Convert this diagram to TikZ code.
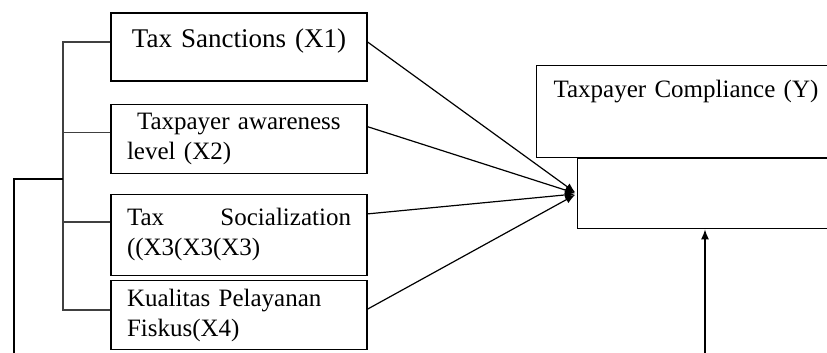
\documentclass[tikz,border=0pt]{standalone}
\usepackage{fontspec}
\setmainfont{Liberation Serif}
\usetikzlibrary{arrows.meta,positioning}

\begin{document}
\begin{tikzpicture}[
    x=0.5pt, y=-0.5pt,
    varbox/.style={draw=black, line width=0.6pt, minimum width=128pt, text width=112pt,
        inner xsep=8pt, inner ysep=0pt, align=left, font=\fontsize{12.5}{15}\selectfont},
    bracket/.style={draw=black!75, line width=0.8pt},
    link/.style={line width=0.6pt, -{Latex[length=5pt,width=4pt]}, shorten >=1pt}
    ]
    \useasboundingbox (0,0) rectangle (827,353);
    \clip (0,0) rectangle (827,353);

    % Variabel bebas
    \node[varbox, minimum height=34pt, align=center, text depth=9pt,
        font=\fontsize{13.5}{16}\selectfont] (sanctions) at (239,47) {Tax Sanctions (X1)};
    \node[varbox, minimum height=34.5pt, below=11pt of sanctions] (awareness) {\hspace*{5pt}Taxpayer awareness\\level (X2)};
    \node[varbox, minimum height=40.5pt, below=10pt of awareness] (socialization) {Tax\hspace{0pt plus 1filll}Socialization\\((X3(X3(X3)};
    \node[varbox, minimum height=34.5pt, below=2pt of socialization] (service) {Kualitas Pelayanan\\Fiskus(X4)};

    % Variabel terikat
    \node[draw=black, line width=0.6pt, minimum width=182pt, minimum height=46pt, text width=165pt,
        inner xsep=8.5pt, inner ysep=0pt, align=left, text depth=23pt, anchor=north west,
        font=\fontsize{12.5}{15}\selectfont] (compliance) at (536,65) {Taxpayer Compliance (Y)};
    \node[draw=black, line width=0.6pt, minimum width=162pt, minimum height=35pt, inner sep=0pt,
        anchor=north west] (target) at ([xshift=20.5pt]compliance.south west) {};

    % Garis kurung kiri
    \coordinate (spine) at (63,0);
    \coordinate (outer) at (14,179);
    \coordinate (outerend) at (14,360);
    \draw[bracket] ([yshift=2.5pt]sanctions.west) -- ([yshift=2.5pt]sanctions.west -| spine)
        -- ([yshift=2.5pt]service.west -| spine) -- ([yshift=2.5pt]service.west);
    \draw[bracket] ([yshift=3pt]awareness.west) -- ([yshift=3pt]awareness.west -| spine);
    \draw[bracket] ([yshift=6.5pt]socialization.west) -- ([yshift=6.5pt]socialization.west -| spine);
    \draw[line width=0.6pt] (spine |- outer) -- (outer) -- (outerend);

    % Panah ke Y
    \draw[link] ([yshift=2.5pt]sanctions.east) -- (target.west);
    \draw[link] ([yshift=6pt]awareness.east) -- (target.west);
    \draw[link] ([yshift=10.5pt]socialization.east) -- (target.west);
    \draw[link] ([yshift=3pt]service.east) -- (target.west);

    \coordinate (feed) at (705,360);
    \draw[link, shorten >=0pt] (feed) -- (feed |- target.south);
\end{tikzpicture}
\end{document}
